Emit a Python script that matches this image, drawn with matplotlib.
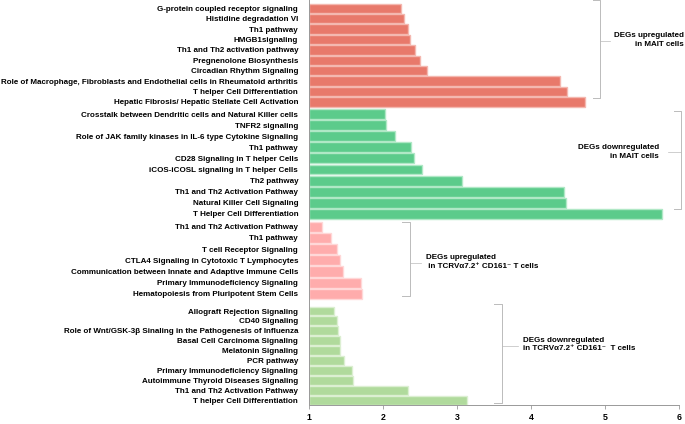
import numpy as np
import matplotlib.pyplot as plt

plt.rcParams['font.family'] = ['Liberation Sans', 'DejaVu Sans']

# pathway names and -log(p) values, per group (top to bottom)
up_mait = ["G-protein coupled receptor signaling", "Histidine degradation VI", "Th1 pathway",
           "HMGB1signaling", "Th1 and Th2 activation pathway", "Pregnenolone Biosynthesis",
           "Circadian Rhythm Signaling",
           "Role of Macrophage, Fibroblasts and Endothelial cells in Rheumatoid arthritis",
           "T helper Cell Differentiation", "Hepatic Fibrosis/ Hepatic Stellate Cell Activation"]
up_mait_vals = [2.24, 2.28, 2.34, 2.36, 2.43, 2.50, 2.59, 4.40, 4.49, 4.73]

down_mait = ["Crosstalk between Dendritic cells and Natural Killer cells", "TNFR2 signaling",
             "Role of JAK family kinases in IL-6 type Cytokine Signaling", "Th1 pathway",
             "CD28 Signaling in T helper Cells", "iCOS-iCOSL signaling in T helper Cells",
             "Th2 pathway", "Th1 and Th2 Activation Pathway", "Natural Killer Cell Signaling",
             "T Helper Cell Differentiation"]
down_mait_vals = [2.03, 2.04, 2.16, 2.37, 2.42, 2.52, 3.07, 4.45, 4.48, 5.77]

up_tcr = ["Th1 and Th2 Activation Pathway", "Th1 pathway", "T cell Receptor Signaling",
          "CTLA4 Signaling in Cytotoxic T Lymphocytes",
          "Communication between Innate and Adaptive Immune Cells",
          "Primary Immunodeficiency Signaling", "Hematopoiesis from Pluripotent Stem Cells"]
up_tcr_vals = [1.17, 1.29, 1.37, 1.42, 1.46, 1.70, 1.71]

down_tcr = ["Allograft Rejection Signaling", "CD40 Signaling",
            "Role of Wnt/GSK-3β Sinaling in the Pathogenesis of Influenza",
            "Basal Cell Carcinoma Signaling", "Melatonin Signaling", "PCR pathway",
            "Primary Immunodeficiency Signaling", "Autoimmune Thyroid Diseases Signaling",
            "Th1 and Th2 Activation Pathway", "T helper Cell Differentiation"]
down_tcr_vals = [1.34, 1.37, 1.39, 1.41, 1.41, 1.47, 1.58, 1.59, 2.33, 3.13]

x_ticks = [1, 2, 3, 4, 5, 6]

groups = [up_mait, down_mait, up_tcr, down_tcr]
values = [up_mait_vals, down_mait_vals, up_tcr_vals, down_tcr_vals]
colors = ['#E8796B', '#5CCB8B', '#FFACAC', '#B0DA9C']
edges = ['#F4B8B0', '#B0E8C6', '#FFD8D8', '#DCEFD2']
# layout (pixel rows): first row centre and row step of each group
starts = [8.3, 114.3, 226.7, 311.0]
steps = [10.4, 11.04, 11.2, 9.97]

W, H = 685, 424
fig = plt.figure(figsize=(W / 100, H / 100), dpi=100)
x0, x1 = 309.3, 678.7
y_axis = 405
ax = fig.add_axes([x0 / W, (H - y_axis) / H, (x1 - x0) / W, y_axis / H])

all_pos, all_lab = [], []
for names, vals, c, ec, s, st in zip(groups, values, colors, edges, starts, steps):
    pos = s + st * np.arange(len(names))
    ax.barh(pos, np.array(vals) - 1, left=1, height=st * 0.9, color=c,
            edgecolor=ec, linewidth=1.0)
    all_pos += list(pos)
    all_lab += names

ax.set_xlim(1, 6)
ax.set_ylim(y_axis, 0)
ax.set_yticks(all_pos, all_lab, fontsize=5.75, fontweight='bold')
ax.tick_params(axis='y', length=0, pad=8)
ax.set_xticks(x_ticks, [str(t) for t in x_ticks], fontsize=6.3, fontweight='bold')
ax.tick_params(axis='x', length=3, width=0.6, color='#999999', pad=3)
for side in ['top', 'right']:
    ax.spines[side].set_visible(False)
for side in ['left', 'bottom']:
    ax.spines[side].set_color('#999999')
    ax.spines[side].set_linewidth(0.7)

# bracket annotations in pixel coordinates
ov = fig.add_axes([0, 0, 1, 1])
ov.set_xlim(0, W)
ov.set_ylim(H, 0)
ov.axis('off')
gray = '#BBBBBB'


def bracket(x, ya, yb, tick_len, ym, mid_end):
    ov.plot([x - tick_len, x, x, x - tick_len], [ya, ya, yb, yb], color=gray, lw=0.7)
    ov.plot([x, mid_end], [ym, ym], color=gray, lw=0.5)


fs = 5.8
bracket(600, 0, 98.3, 7, 41.3, 610)
ov.text(684, 40, "DEGs upregulated\nin MAIT cells", ha='right', va='center',
        fontsize=fs, fontweight='bold', linespacing=1.25)

bracket(681, 110.7, 209, 7, 152, 668)
ov.text(659, 152, "DEGs downregulated\nin MAIT cells", ha='right', va='center',
        fontsize=fs, fontweight='bold', linespacing=1.25)

bracket(410, 221.7, 296, 8, 262.7, 420.7)
ov.text(426, 262, "DEGs upregulated\n in TCRVα7.2⁺ CD161⁻ T cells", ha='left', va='center',
        fontsize=fs, fontweight='bold', linespacing=1.25)

bracket(501.7, 304.3, 402.7, 8, 346, 518.3)
ov.text(523, 344.5, "DEGs downregulated\nin TCRVα7.2⁺ CD161⁻  T cells", ha='left', va='center',
        fontsize=fs, fontweight='bold', linespacing=1.25)

fig.savefig('out.png', dpi=100)
